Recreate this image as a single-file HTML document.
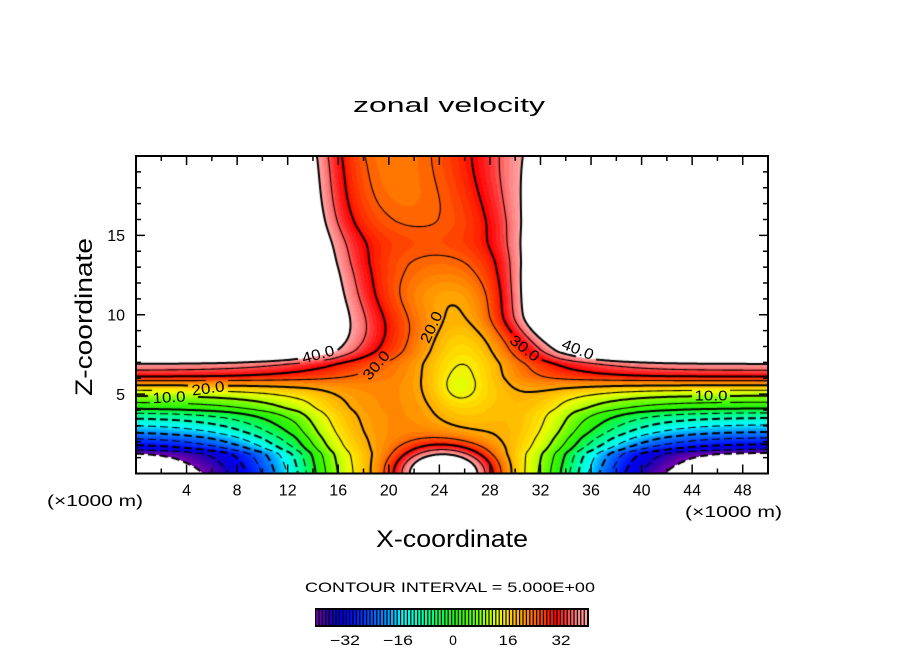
<!DOCTYPE html>
<html><head><meta charset="utf-8">
<style>
html,body{margin:0;padding:0;background:#fff;}
#wrap{position:relative;width:904px;height:654px;overflow:hidden;background:#fff;}
#c{position:absolute;left:136px;top:156px;}
svg{position:absolute;left:0;top:0;}
text{font-family:"Liberation Sans",sans-serif;fill:#000;}
</style></head><body>
<div id="wrap">
<canvas id="c" width="632" height="318"></canvas>
<svg id="s" width="904" height="654" viewBox="0 0 904 654">
<text x="353" y="112" font-size="20" textLength="192" lengthAdjust="spacingAndGlyphs">zonal velocity</text>
<text transform="translate(92,396) rotate(-90)" font-size="24" textLength="158" lengthAdjust="spacingAndGlyphs">Z-coordinate</text>
<text x="376" y="547" font-size="24" textLength="152" lengthAdjust="spacingAndGlyphs">X-coordinate</text>
<text x="47" y="506" font-size="16" textLength="96" lengthAdjust="spacingAndGlyphs">(×1000 m)</text>
<text x="685" y="517" font-size="16" textLength="97" lengthAdjust="spacingAndGlyphs">(×1000 m)</text>
<text x="305" y="592" font-size="14" textLength="290" lengthAdjust="spacingAndGlyphs">CONTOUR INTERVAL = 5.000E+00</text>
<g font-size="16" text-anchor="end">
<text x="125" y="400">5</text>
<text x="125" y="320.5">10</text>
<text x="125" y="241">15</text>
</g>
<g font-size="16" text-anchor="middle">
<text x="186.6" y="495.5">4</text>
<text x="237.1" y="495.5">8</text>
<text x="287.7" y="495.5">12</text>
<text x="338.2" y="495.5">16</text>
<text x="388.8" y="495.5">20</text>
<text x="439.4" y="495.5">24</text>
<text x="489.9" y="495.5">28</text>
<text x="540.5" y="495.5">32</text>
<text x="591.0" y="495.5">36</text>
<text x="641.6" y="495.5">40</text>
<text x="692.2" y="495.5">44</text>
<text x="742.7" y="495.5">48</text>
</g>
<g font-size="14" text-anchor="middle">
<text x="345" y="645" textLength="30" lengthAdjust="spacingAndGlyphs">−32</text>
<text x="398" y="645" textLength="30" lengthAdjust="spacingAndGlyphs">−16</text>
<text x="453" y="645">0</text>
<text x="508" y="645" textLength="19" lengthAdjust="spacingAndGlyphs">16</text>
<text x="561" y="645" textLength="19" lengthAdjust="spacingAndGlyphs">32</text>
</g>
<g font-size="15" text-anchor="middle">
<text transform="translate(318,354) rotate(-15)" dy="5.4" textLength="33" lengthAdjust="spacingAndGlyphs">40.0</text>
<text transform="translate(376,365) rotate(-50)" dy="5.4" textLength="33" lengthAdjust="spacingAndGlyphs">30.0</text>
<text transform="translate(208,388) rotate(-8)" dy="5.4" textLength="33" lengthAdjust="spacingAndGlyphs">20.0</text>
<text transform="translate(169,397) rotate(-3)" dy="5.4" textLength="33" lengthAdjust="spacingAndGlyphs">10.0</text>
<text transform="translate(431,327) rotate(-65)" dy="5.4" textLength="33" lengthAdjust="spacingAndGlyphs">20.0</text>
<text transform="translate(525,348) rotate(38)" dy="5.4" textLength="33" lengthAdjust="spacingAndGlyphs">30.0</text>
<text transform="translate(578,349) rotate(22)" dy="5.4" textLength="33" lengthAdjust="spacingAndGlyphs">40.0</text>
<text transform="translate(711,395) rotate(0)" dy="5.4" textLength="33" lengthAdjust="spacingAndGlyphs">10.0</text>
</g>
<g id="ticks" stroke="#000" stroke-width="1.5"></g>
<rect x="136" y="156" width="632" height="317.5" fill="none" stroke="#000" stroke-width="2"/>
<rect x="315" y="608" width="274" height="19" fill="#000"/>
<g id="cbar"></g>
</svg>
</div>
<script>
(function(){
const CM=[[-40,120,0,180],[-38,80,0,170],[-36,40,0,180],[-34,10,0,210],[-31,0,0,245],[-27,0,40,255],[-24,0,80,255],[-19,0,150,255],[-16.5,0,200,255],[-14.5,0,255,255],[-10,0,255,190],[-5,0,255,110],[0,30,240,30],[3,50,245,0],[7,100,255,0],[10.8,180,255,0],[13.7,230,255,0],[16,255,225,0],[18.6,255,190,0],[21.5,255,150,0],[24,255,110,0],[26.3,255,70,0],[28.8,255,30,0],[30.3,255,0,0],[32.7,255,40,40],[34.7,255,80,80],[36.4,255,120,120],[38.5,255,150,150],[40,255,165,165]];
function cm(v){
  if(v<=CM[0][0]) return CM[0].slice(1);
  for(let i=1;i<CM.length;i++){ if(v<=CM[i][0]){const a=CM[i-1],b=CM[i],t=(v-a[0])/(b[0]-a[0]); return [a[1]+(b[1]-a[1])*t,a[2]+(b[2]-a[2])*t,a[3]+(b[3]-a[3])*t];}}
  return CM[CM.length-1].slice(1);
}
function sm(t,v){
  const n=t.length;
  if(v<=t[0][0]) return t[0][1];
  if(v>=t[n-1][0]) return t[n-1][1];
  let i=1; while(v>t[i][0]) i++;
  const x0=t[i-1][0],x1=t[i][0],y0=t[i-1][1],y1=t[i][1],h=x1-x0,s=(v-x0)/h;
  const m0=(i>=2)?(y1-t[i-2][1])/(x1-t[i-2][0]):(y1-y0)/h;
  const m1=(i+1<n)?(t[i+1][1]-y0)/(t[i+1][0]-x0):(y1-y0)/h;
  const s2=s*s,s3=s2*s;
  return (2*s3-3*s2+1)*y0+(s3-2*s2+s)*h*m0+(-2*s3+3*s2)*y1+(s3-s2)*h*m1;
}
const Ft=[[0,-47],[0.6,-45],[1.25,-41.5],[1.5,-36],[1.8,-31],[2.2,-26],[2.56,-21],[3.0,-16],[3.45,-10.8],[3.8,-5.6],[4.1,0],[4.5,5],[4.9,10],[5.25,15],[5.56,20],[5.85,25],[6.1,30],[6.5,35],[6.9,40],[7.3,50],[7.8,60],[9,67],[12,70],[20,70]];
const Mt=[[0,24],[3,24],[6,23],[9,21],[11,19.5],[13,22.8],[14.5,25],[16,23.3],[17,22],[20,18]];
const cLt=[[0,12.6],[3,12.6],[5,13.5],[7.5,15.6],[10,15.9],[15,14],[20,13.6]];
const sLit=[[0,2.4],[5,2.4],[10,2.7],[15,1.9],[20,2.0]];
const cRt=[[0,35.2],[3,35.3],[5,34],[7.5,33.5],[10,31.2],[15,31.8],[20,32.0]];
const sRit=[[0,2.4],[5,2.5],[10,1.9],[15,2.0],[20,4.5]];
function rp(z){return {F:sm(Ft,z),M:sm(Mt,z),cL:sm(cLt,z),sLi:sm(sLit,z),cR:sm(cRt,z),sRi:sm(sRit,z)};}
function lg(t){return 1/(1+Math.exp(-t));}
function field(x,z,p){
  if(z<0)z=0;
  const tl=x<p.cL?(x-p.cL)/3.3:(x-p.cL)/p.sLi;
  const tr=x>p.cR?(p.cR-x)/3.0:(p.cR-x)/p.sRi;
  const W=lg(tl)*lg(tr);
  let u=p.F+(p.M-p.F)*W;
  const bx=(x-26.0)/3.6,bzz=(z-6.6)/4.0;
  u-=8*Math.exp(-bx*bx-bzz*bzz);
  const cx=(x-25.4)/1.6,cz=(z-5.4)/1.1;
  u-=2.2*Math.exp(-cx*cx-cz*cz);
  const ux=(x-24.4)/3.8,uz=z/1.7;
  const r=Math.sqrt(ux*ux+uz*uz);
  u+=28*Math.exp(-Math.pow(r,2.5));
  return u;
}
const W_=632,H_=318;
const cv=document.getElementById('c'),ctx=cv.getContext('2d');
const im=ctx.createImageData(W_,H_),d=im.data;
const pal=[];for(let v=-40;v<40;v++)pal.push(cm(v+0.5));
for(let j=0;j<H_;j++){
  const z=Math.max(0,(317.5-(j+0.5))/15.875);const p=rp(z);
  for(let i=0;i<W_;i++){
    const x=(i+0.5)/12.64;const u=field(x,z,p);
    let r=255,g=255,b=255;
    if(u>=-40&&u<=40){let k=Math.floor(u)+40;if(k>79)k=79;if(k<0)k=0;const c=pal[k];r=c[0];g=c[1];b=c[2];}
    const o=(j*W_+i)*4;d[o]=r;d[o+1]=g;d[o+2]=b;d[o+3]=255;
  }
}
ctx.putImageData(im,0,0);
const step=2,nx=317,ny=160;
const G=new Float64Array(nx*ny);
for(let j=0;j<ny;j++){const z=Math.max(0,(317.5-j*step)/15.875);const p=rp(z);
  for(let i=0;i<nx;i++){G[j*nx+i]=field(i*step/12.64,z,p);}}
function trace(lev){
  const adj=new Map();
  function add(a,b){let A=adj.get(a);if(!A){A=[];adj.set(a,A);}A.push(b);let B=adj.get(b);if(!B){B=[];adj.set(b,B);}B.push(a);}
  for(let j=0;j<ny-1;j++)for(let i=0;i<nx-1;i++){
    const n0=j*nx+i;
    const v0=G[n0],v1=G[n0+1],v2=G[n0+nx+1],v3=G[n0+nx];
    const b0=v0>lev,b1=v1>lev,b2=v2>lev,b3=v3>lev;
    const T=n0*2,R=(n0+1)*2+1,B=(n0+nx)*2,L=n0*2+1;
    const e=[];
    if(b0!==b1)e.push(T);if(b1!==b2)e.push(R);if(b2!==b3)e.push(B);if(b3!==b0)e.push(L);
    if(e.length===2)add(e[0],e[1]);
    else if(e.length===4){const c=(v0+v1+v2+v3)/4>lev;
      if(c===b0){add(T,R);add(B,L);}else{add(T,L);add(R,B);}}
  }
  function pt(k){const ed=k&1,n=k>>1,i=n%nx,j=(n/nx)|0;
    if(!ed){const a=G[n],b=G[n+1],t=(lev-a)/(b-a);return [(i+t)*step,j*step];}
    const a=G[n],b=G[n+nx],t=(lev-a)/(b-a);return [i*step,(j+t)*step];}
  function walk(s){const line=[s];let cur=s;
    while(true){const nb=adj.get(cur);if(!nb||nb.length===0)break;const nk=nb.pop();
      const bk=adj.get(nk);const ix=bk.indexOf(cur);if(ix>=0)bk.splice(ix,1);
      line.push(nk);cur=nk;}
    return line.map(pt);}
  const lines=[];
  for(const [k,nb] of adj){if(nb.length===1)lines.push(walk(k));}
  for(const [k,nb] of adj){while(nb.length>0)lines.push(walk(k));}
  return lines;
}
const zones=[[318,354,-15],[376,365,-50],[208,388,-8],[169,397,-3],[431,327,-65],[525,348,38],[578,349,22],[711,395,0]].map(a=>[a[0]-136,a[1]-156,a[2]*Math.PI/180]);
function inZone(p){for(const z of zones){const dx=p[0]-z[0],dy=p[1]-z[1],c=Math.cos(z[2]),s=Math.sin(z[2]);
  if(Math.abs(dx*c+dy*s)<19&&Math.abs(-dx*s+dy*c)<7.5)return true;}return false;}
ctx.strokeStyle='#000';ctx.lineJoin='round';
for(let lev=-40;lev<=40;lev+=5){
  const lines=trace(lev);
  ctx.lineWidth=(lev%10===0)?2:1.1;
  ctx.setLineDash(lev<0?[8,4]:[]);
  ctx.beginPath();
  for(const L of lines){let pen=false;
    for(const p of L){if(inZone(p)){pen=false;continue;}
      if(!pen){ctx.moveTo(p[0],p[1]);pen=true;}else ctx.lineTo(p[0],p[1]);}}
  ctx.stroke();
}
const NS='http://www.w3.org/2000/svg';
const tg=document.getElementById('ticks');
function ln(x1,y1,x2,y2){const l=document.createElementNS(NS,'line');l.setAttribute('x1',x1);l.setAttribute('y1',y1);l.setAttribute('x2',x2);l.setAttribute('y2',y2);tg.appendChild(l);}
for(let v=2;v<50;v+=2){const x=136+12.64*v;const L=(v%4===0)?9:5;ln(x,473.5,x,473.5-L);ln(x,156,x,156+L);}
for(let v=1;v<20;v++){const y=473.5-15.875*v;const L=(v%5===0)?9:5;ln(136,y,136+L,y);ln(768,y,768-L,y);}
const cb=document.getElementById('cbar');
for(let k=0;k<80;k++){const c=cm(k-40+0.5);const r=document.createElementNS(NS,'rect');
  r.setAttribute('x',(316.2+k*3.4).toFixed(2));r.setAttribute('y',610);r.setAttribute('width',2.2);r.setAttribute('height',15);
  r.setAttribute('fill','rgb('+Math.round(c[0])+','+Math.round(c[1])+','+Math.round(c[2])+')');cb.appendChild(r);}
})();
</script>
</body></html>
